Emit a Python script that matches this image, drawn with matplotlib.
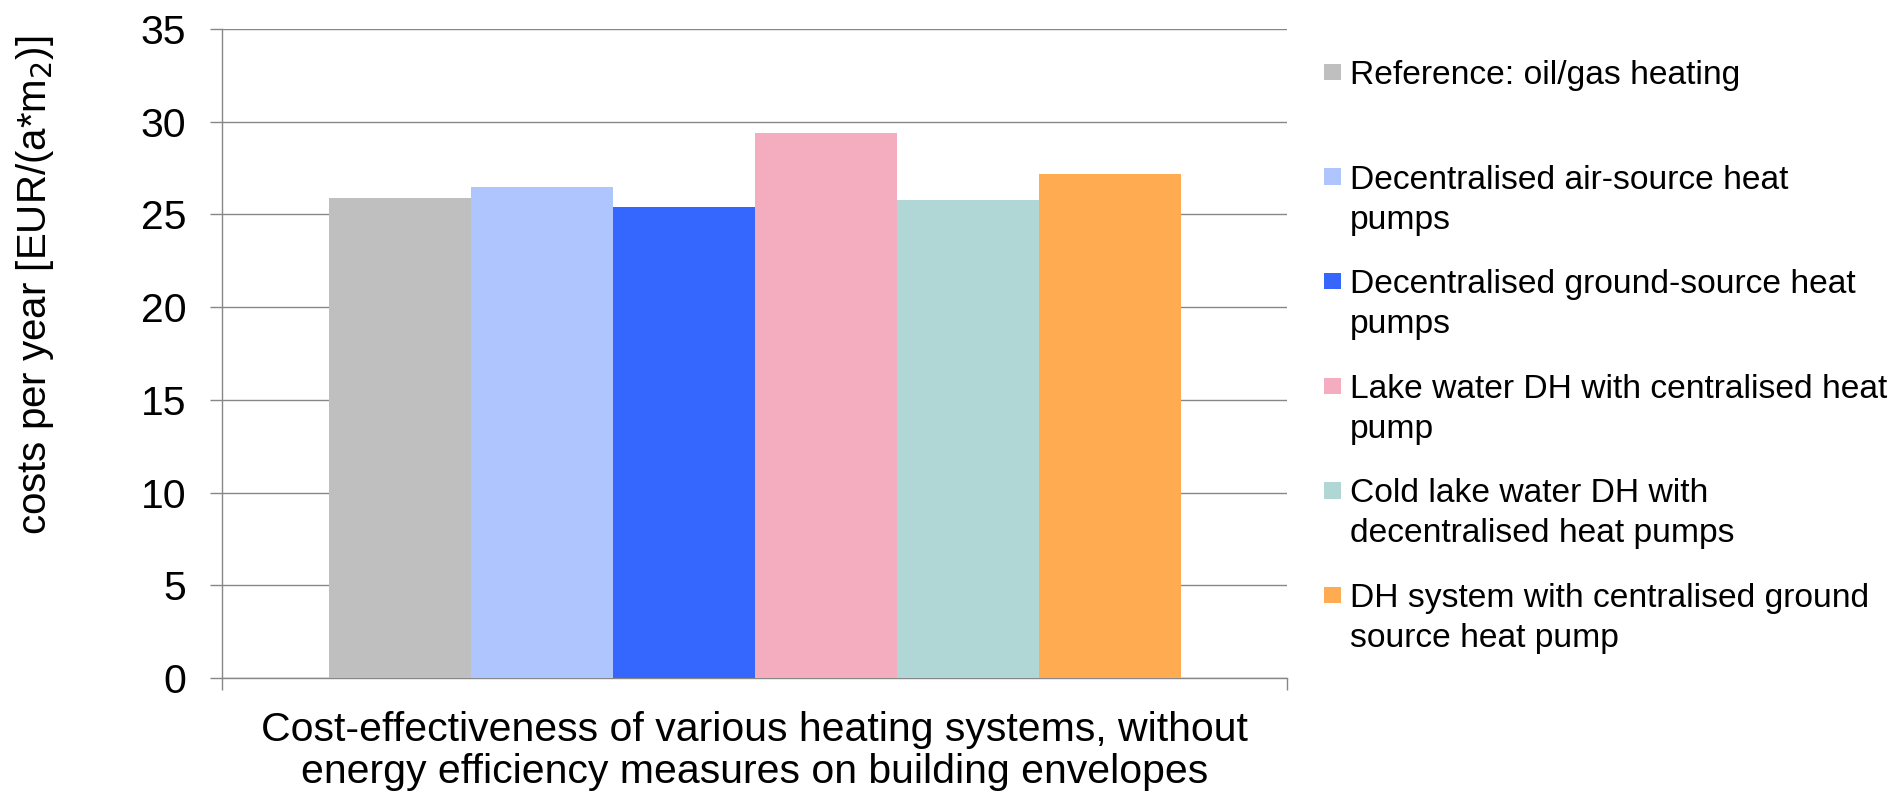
import numpy as np
import matplotlib
matplotlib.use("Agg")
import matplotlib.pyplot as plt
from matplotlib.patches import Rectangle

plt.rcParams['font.family'] = ['Liberation Sans', 'DejaVu Sans']

systems = [
    "Reference: oil/gas heating",
    "Decentralised air-source heat\npumps",
    "Decentralised ground-source heat\npumps",
    "Lake water DH with centralised heat\npump",
    "Cold lake water DH with\ndecentralised heat pumps",
    "DH system with centralised ground\nsource heat pump",
]
costs = [25.9, 26.5, 25.4, 29.4, 25.8, 27.2]
colors = ['#BFBFBF', '#AFC5FE', '#3567FF', '#F3ADBE', '#B0D6D6', '#FEAB52']
y_ticks = [0, 5, 10, 15, 20, 25, 30, 35]
category_label = ("Cost-effectiveness of various heating systems, without\n"
                  "energy efficiency measures on building envelopes")
y_label = "costs per year [EUR/(a*m$_2$)]"

W, H = 1892, 795
grid_col = '#878787'

fig = plt.figure(figsize=(W / 100, H / 100), dpi=100)
ax = fig.add_axes([222 / W, 117 / H, (1287 - 222) / W, (678 - 29) / H])

n = len(costs)
bw = 0.8 / n
xs = -0.4 + bw * (np.arange(n) + 0.5)
ax.bar(xs, costs, width=bw, color=colors, zorder=3)

ax.set_xlim(-0.5, 0.5)
ax.set_ylim(0, 35)
ax.set_yticks(y_ticks)
ax.set_yticklabels([str(t) for t in y_ticks])
ax.set_xticks([-0.5, 0.5])
ax.set_xticklabels(['', ''])

ax.grid(axis='y', color=grid_col, linewidth=1.0, zorder=0)
for s in ['top', 'right']:
    ax.spines[s].set_visible(False)
for s in ['left', 'bottom']:
    ax.spines[s].set_color(grid_col)
    ax.spines[s].set_linewidth(1.0)
ax.tick_params(axis='y', length=8.6, width=1.0, color=grid_col, pad=17,
               labelsize=29.5)
ax.tick_params(axis='x', length=8.6, width=1.0, color=grid_col)

# category label under the axis
fig.text(754.5 / W, 1 - 711 / H, category_label, ha='center', va='top',
         fontsize=29.5, linespacing=1.13)

# y axis label
fig.text(35 / W, 1 - 285 / H, y_label, rotation=90, ha='center', va='center',
         fontsize=29)

# legend on the right
first_y = 72
step = 104.6
sq = 16.5
for i, (lab, col) in enumerate(zip(systems, colors)):
    cy = first_y + i * step
    fig.add_artist(Rectangle((1324 / W, 1 - (cy + sq / 2) / H), sq / W, sq / H,
                             transform=fig.transFigure, color=col, lw=0))
    for j, line in enumerate(lab.split('\n')):
        base = cy + 12 + j * 40
        fig.text(1350 / W, 1 - base / H, line, ha='left', va='baseline',
                 fontsize=24.2)

fig.savefig('out.png', dpi=100)
